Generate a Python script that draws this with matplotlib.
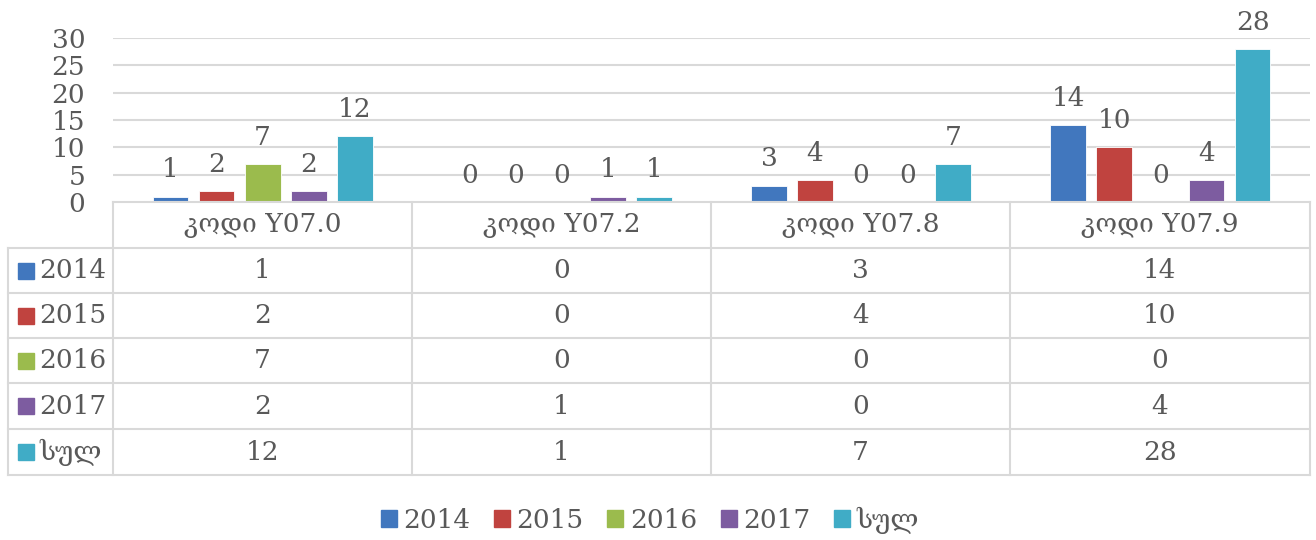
import matplotlib
matplotlib.use("Agg")
import matplotlib.pyplot as plt
from matplotlib.patches import Rectangle
import numpy as np

categories = ["კოდი Y07.0", "კოდი Y07.2", "კოდი Y07.8", "კოდი Y07.9"]
series_names = ["2014", "2015", "2016", "2017", "სულ"]
v2014 = [1, 0, 3, 14]
v2015 = [2, 0, 4, 10]
v2016 = [7, 0, 0, 0]
v2017 = [2, 1, 0, 4]
vtotal = [12, 1, 7, 28]
yticks = [0, 5, 10, 15, 20, 25, 30]
colors = ["#4177be", "#c0433f", "#9bbb4d", "#7d5ca0", "#40acc6"]
series = [v2014, v2015, v2016, v2017, vtotal]

FONT = ["DejaVu Serif", "DejaVu Sans"]
plt.rcParams["font.family"] = FONT
TXT = "#595959"
GRID = "#d9d9d9"
FS = 19

W, H = 1316, 540
fig = plt.figure(figsize=(W / 100, H / 100), dpi=100)

# pixel layout
x0, x1 = 113, 1310
y_zero, y_top = 202, 38
ax = fig.add_axes([x0 / W, 1 - y_zero / H, (x1 - x0) / W, (y_zero - y_top) / H])
ax.set_xlim(-0.5, len(categories) - 0.5)
ax.set_ylim(0, 30)
for s in ax.spines.values():
    s.set_visible(False)
ax.set_yticks(yticks)
ax.set_yticklabels([str(t) for t in yticks], fontsize=FS, color=TXT)
ax.tick_params(axis="y", length=0, pad=20)
ax.set_xticks([])
for t in yticks[1:]:
    ax.axhline(t, color=GRID, lw=1.5, zorder=0)

step = 0.154
bw = 0.12
x = np.arange(len(categories))
for i, (vals, c) in enumerate(zip(series, colors)):
    pos = x + (i - 2) * step
    ax.bar(pos, vals, width=bw, color=c, zorder=2, edgecolor="white", linewidth=0.6)
    for p, v in zip(pos, vals):
        ax.text(p, v + 2.6, str(v), ha="center", va="bottom", fontsize=FS, color=TXT, clip_on=False)

# table overlay in pixel coords
ov = fig.add_axes([0, 0, 1, 1])
ov.set_xlim(0, W)
ov.set_ylim(H, 0)
ov.axis("off")

col_edges = [113, 412, 711, 1010, 1310]
row_edges = [202, 248, 293, 338, 383, 429, 475]
left = 8
lw = 1.5
ov.plot([col_edges[0], col_edges[-1]], [row_edges[0]] * 2, color=GRID, lw=lw)
for r in row_edges[1:]:
    ov.plot([left, col_edges[-1]], [r, r], color=GRID, lw=lw)
for c in col_edges:
    ov.plot([c, c], [row_edges[0], row_edges[-1]], color=GRID, lw=lw)
ov.plot([left, left], [row_edges[1], row_edges[-1]], color=GRID, lw=lw)

for j, cat in enumerate(categories):
    cx = (col_edges[j] + col_edges[j + 1]) / 2
    cy = (row_edges[0] + row_edges[1]) / 2
    ov.text(cx, cy, cat, ha="center", va="center", fontsize=FS, color=TXT)

for i, (name, vals, c) in enumerate(zip(series_names, series, colors)):
    cy = (row_edges[i + 1] + row_edges[i + 2]) / 2
    ov.add_patch(Rectangle((18, cy - 8), 16, 16, color=c))
    ov.text(39, cy, name, ha="left", va="center", fontsize=FS, color=TXT)
    for j, v in enumerate(vals):
        cx = (col_edges[j] + col_edges[j + 1]) / 2
        ov.text(cx, cy, str(v), ha="center", va="center", fontsize=FS, color=TXT)

handles = [Rectangle((0, 0), 1, 1, color=c) for c in colors]
fig.legend(handles, series_names, loc="center", bbox_to_anchor=(650 / W, 1 - 520 / H),
           ncol=5, frameon=False, fontsize=FS, labelcolor=TXT,
           handlelength=0.6, handleheight=0.6, handletextpad=0.25, columnspacing=0.9)

fig.savefig("out.png", dpi=100)
